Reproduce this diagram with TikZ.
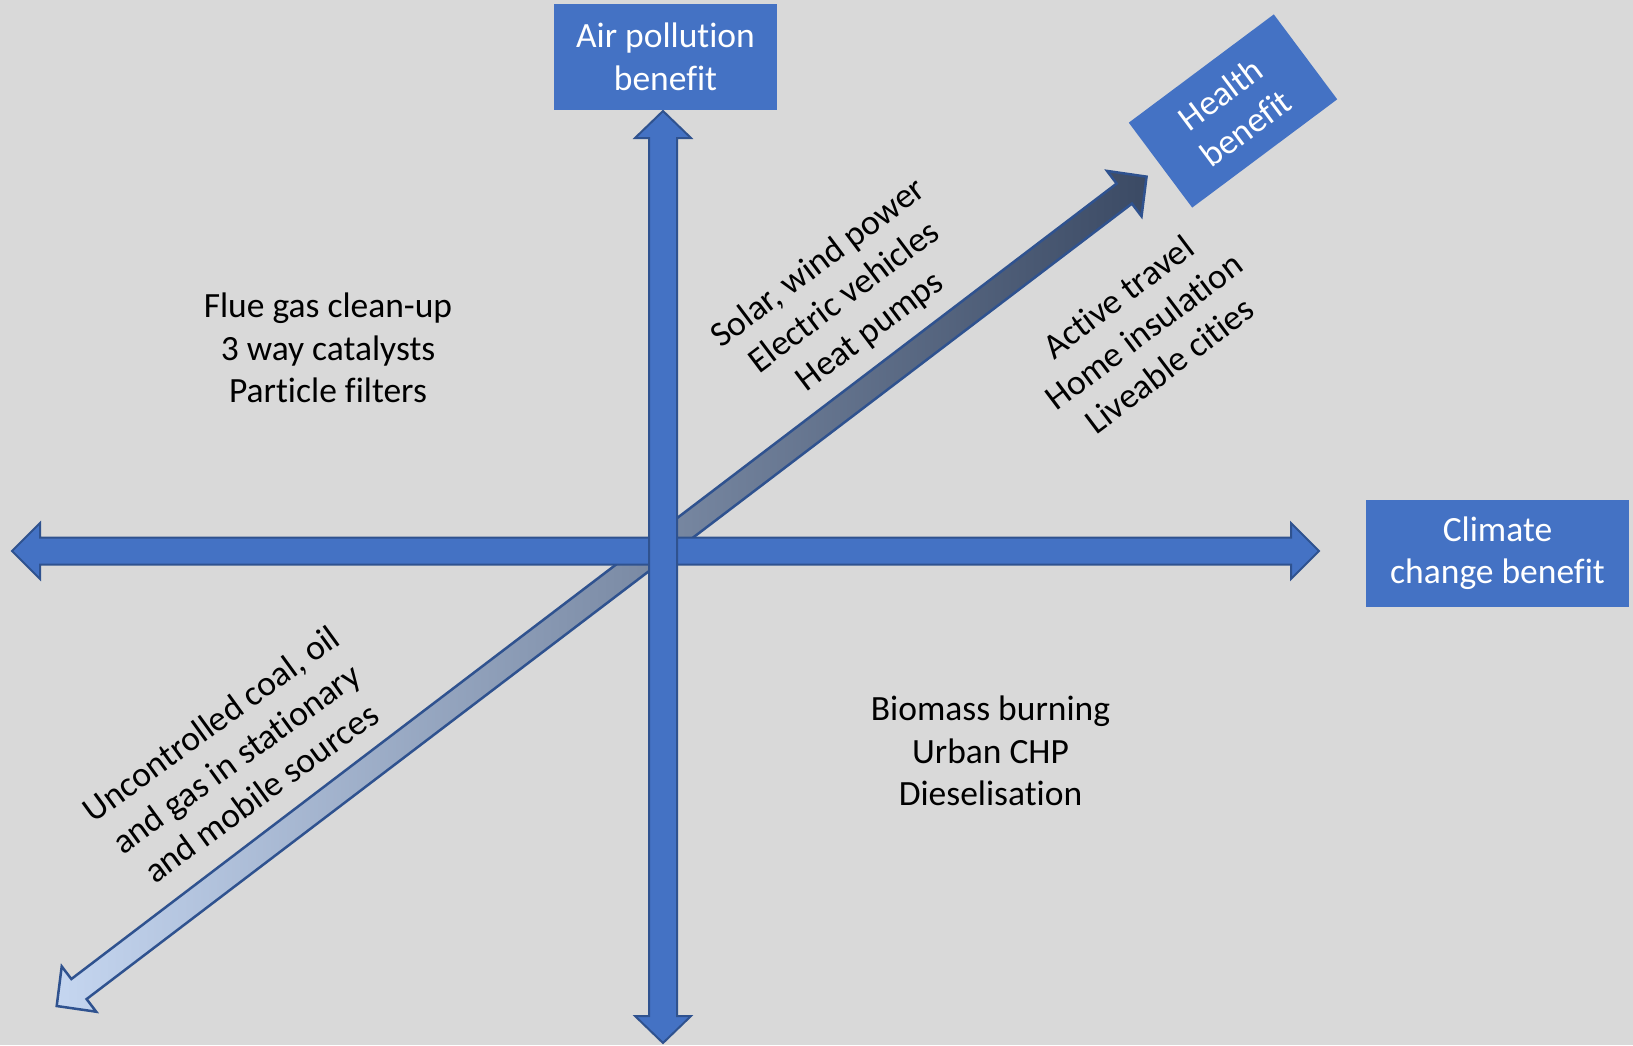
\documentclass[tikz,border=0pt]{standalone}
\usepackage{fontspec}
\setmainfont{Carlito}[Ligatures=CommonOff]
\definecolor{bgGray}{HTML}{D9D9D9}
\definecolor{axisBlue}{HTML}{4472C4}
\definecolor{edgeBlue}{HTML}{2F528F}
\definecolor{lightBlue}{HTML}{C5D6F0}
\definecolor{darkSlate}{HTML}{3B4A64}
\begin{document}
\begin{tikzpicture}[x=1pt,y=-1pt,
    txt/.style={align=center,inner sep=0pt,font=\fontsize{35.5}{42.7}\selectfont},
    benefitbox/.style={txt,fill=axisBlue,text=white},
    axisarrow/.style={fill=axisBlue,draw=edgeBlue,line width=2pt,line join=miter}]
    % Nền
    \fill[bgGray] (0,0) rectangle (1633,1045);
    \useasboundingbox (0,0) rectangle (1633,1045);
    
    % Mũi tên chéo (sức khỏe)
    \begin{scope}[shift={(56.7,1006)},rotate=37.27]
    \shadedraw[left color=lightBlue,right color=darkSlate,draw=edgeBlue,line width=2.5pt,line join=miter]
      (0,0) -- (28,28.5) -- (28,12.6) -- (1341.6,12.6) -- (1341.6,28.5) -- (1369.6,0)
      -- (1341.6,-28.5) -- (1341.6,-12.6) -- (28,-12.6) -- (28,-28.5) -- cycle;
    \end{scope}
    
    % Trục ngang
    \draw[axisarrow] (12,551) -- (40,523) -- (40,537.5) -- (1291,537.5) -- (1291,523) -- (1319,551)
      -- (1291,579) -- (1291,564.5) -- (40,564.5) -- (40,579) -- cycle;
    % Trục dọc
    \draw[axisarrow] (663,111) -- (691,138) -- (677,138) -- (677,1016) -- (691,1016) -- (663,1043)
      -- (635,1016) -- (649,1016) -- (649,138) -- (635,138) -- cycle;
    
    % Các hộp lợi ích
    \node[benefitbox,minimum width=223,minimum height=106] (air) at (665.5,57) {Air pollution\\benefit};
    \node[benefitbox,minimum width=263,minimum height=107] (climate) at (1497.5,553.3) {Climate\\change benefit};
    \node[benefitbox,minimum width=181,minimum height=106,rotate=36.75] (health) at (1233,111) {Health\\benefit};
    
    % Chữ trong các góc phần tư
    \node[txt] (flue) at (328,348) {Flue gas clean-up\\3 way catalysts\\Particle filters};
    \node[txt] (biomass) at (990.5,751) {Biomass burning\\Urban CHP\\Dieselisation};
    \node[txt,rotate=37] (solar) at (844.6,297.9) {Solar, wind power\\Electric vehicles\\Heat pumps};
    \node[txt,rotate=37] (active) at (1143.6,331) {Active travel\\Home insulation\\Liveable cities};
    \node[txt,rotate=36] (coal) at (236,758) {Uncontrolled coal, oil\\and gas in stationary\\and mobile sources};
\end{tikzpicture}
\end{document}
